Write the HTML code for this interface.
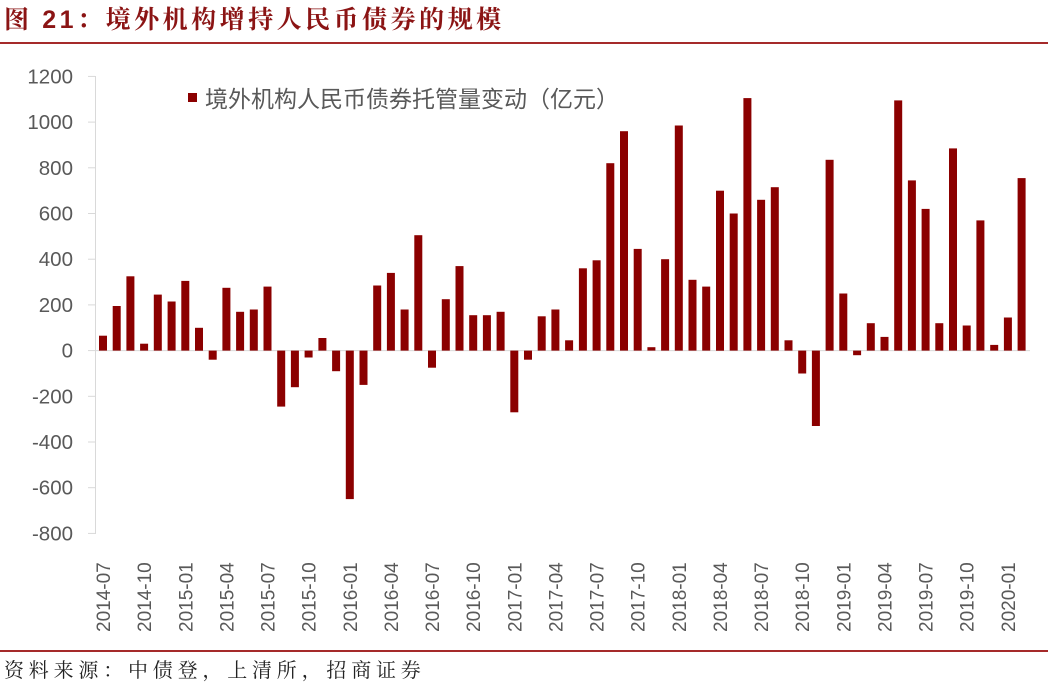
<!DOCTYPE html>
<html><head><meta charset="utf-8"><style>
body{margin:0;background:#fff;width:1048px;height:684px;overflow:hidden}
svg{display:block}
</style></head><body>
<svg id="s" width="1048" height="684" xmlns="http://www.w3.org/2000/svg">
<text x="4" y="28" font-family="Liberation Serif,'Noto Serif CJK SC',serif" font-weight="bold" font-size="25" letter-spacing="3.5" fill="#8B1414">图 <tspan font-family="Liberation Sans,sans-serif">21</tspan>：境外机构增持人民币债券的规模</text>
<rect x="0" y="42" width="1048" height="2" fill="#A52A2A"/>
<rect x="0" y="650" width="1048" height="2" fill="#A52A2A"/>
<text x="4" y="677" font-family="'Noto Serif CJK SC',serif" font-size="20" letter-spacing="4.8" fill="#222">资料来源：中债登，上清所，招商证券</text>
<line x1="95.5" y1="76" x2="95.5" y2="534" stroke="#d9d9d9"/>
<line x1="95" y1="350.6" x2="1030" y2="350.6" stroke="#d9d9d9"/>
<rect x="188" y="93" width="9" height="9" fill="#8B0000"/>
<text x="205" y="107" font-family="Liberation Sans,'Noto Sans CJK SC',sans-serif" font-size="23" fill="#595959">境外机构人民币债券托管量变动（亿元）</text>
<g id="g"></g>
</svg>
<script>
var v=[65,195,325,30,245,215,305,100,-40,275,170,180,280,-245,-160,-30,55,-90,-650,-150,285,340,180,505,-75,225,370,155,155,170,-270,-40,150,180,45,360,395,820,960,445,15,400,985,310,280,700,600,1105,660,715,45,-100,-330,835,250,-20,120,60,1095,745,620,120,885,110,570,25,145,755];
var g=document.getElementById('g'),h='',z=350.6,k=0.2285;
for(var i=0;i<v.length;i++){var x=103+13.71*i-4,a=v[i]*k;h+='<rect x="'+x.toFixed(1)+'" y="'+(a>0?z-a:z).toFixed(1)+'" width="8" height="'+Math.abs(a).toFixed(1)+'" fill="#8B0000"/>';
if(i%3==0){var lx=103+13.71*i+7;var yr=2014+Math.floor((i+6)/12),m=(i+6)%12+1;h+='<text transform="translate('+lx.toFixed(1)+',632) rotate(-90)" font-family="Liberation Sans,sans-serif" font-size="19" fill="#595959">'+yr+'-'+(m<10?'0':'')+m+'</text>';}}
for(var t=-800;t<=1200;t+=200){var y=z-t*k;h+='<line x1="88" y1="'+y.toFixed(1)+'" x2="95" y2="'+y.toFixed(1)+'" stroke="#d9d9d9"/><text x="73" y="'+(y+7).toFixed(1)+'" text-anchor="end" font-family="Liberation Sans,sans-serif" font-size="20.5" fill="#595959">'+t+'</text>';}
g.innerHTML=h;
</script>
</body></html>
